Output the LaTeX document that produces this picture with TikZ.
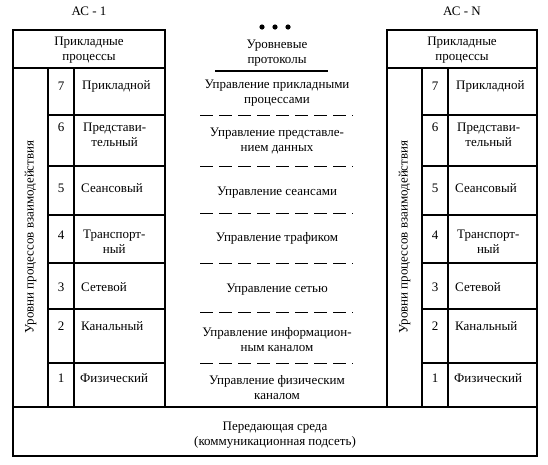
\documentclass[tikz,border=0pt]{standalone}
\usepackage{fontspec}
\setmainfont{Liberation Serif}
\begin{document}
\begin{tikzpicture}[x=1pt,y=-1pt,
  frame/.style={line width=1.2pt},
  sep/.style={line width=1pt, dash pattern=on 13pt off 6pt},
  txt/.style={inner sep=0pt, font=\fontsize{13}{15}\selectfont, align=center},
  lbl/.style={txt, anchor=west}]
\useasboundingbox (0,0) rectangle (548,464);
% titles
\node[txt] (t1) at (89,11) {АС - 1};
\node[txt] (tn) at (462,11) {АС - N};
% dots
\foreach \i/\x in {1/262,2/275,3/288}
  \fill (\x,27) circle (2.6pt);
% stacks
\foreach \s/\xa/\xb/\xc/\xd in {L/13/48/74/165, R/387/422/448/537}{
  \draw[frame] (\xa,30) rectangle (\xd,407);
  \draw[frame] (\xa,68) -- (\xd,68);
  \draw[frame] (\xb,68) -- (\xb,407);
  \draw[frame] (\xc,68) -- (\xc,407);
  \foreach \y in {115,166,215,263,309,363}
    \draw[frame] (\xb,\y) -- (\xd,\y);
  \node[txt] (hdr\s) at ({(\xa+\xd)/2},50) {Прикладные\\процессы};
  \node[txt, rotate=90] (vert\s) at ({(\xa+\xb)/2},237) {Уровни процессов взаимодействия};
  \node[txt] (n7\s) at ({(\xb+\xc)/2},86) {7};
  \node[txt] (n6\s) at ({(\xb+\xc)/2},127) {6};
  \node[txt] (n5\s) at ({(\xb+\xc)/2},188) {5};
  \node[txt] (n4\s) at ({(\xb+\xc)/2},235) {4};
  \node[txt] (n3\s) at ({(\xb+\xc)/2},287) {3};
  \node[txt] (n2\s) at ({(\xb+\xc)/2},326) {2};
  \node[txt] (n1\s) at ({(\xb+\xc)/2},378) {1};
  \node[lbl] (l7\s) at (\xc+8,86) {Прикладной};
  \node[lbl] (l6\s) at (\xc+9,134.5) {Представи-\\тельный};
  \node[lbl] (l5\s) at (\xc+7,188) {Сеансовый};
  \node[lbl] (l4\s) at (\xc+9,242) {Транспорт-\\ный};
  \node[lbl] (l3\s) at (\xc+7,287) {Сетевой};
  \node[lbl] (l2\s) at (\xc+7,326) {Канальный};
  \node[lbl] (l1\s) at (\xc+6,378) {Физический};
}
% bottom medium
\draw[frame] (13,407) rectangle (537,456);
\node[txt] (medium) at (275,435) {Передающая среда\\(коммуникационная подсеть)};
% middle protocols
\node[txt] (proto) at (277,53) {Уровневые\\протоколы};
\draw[line width=1.1pt] (215,71) -- (328,71);
\node[txt] (p7) at (277,93) {Управление прикладными\\процессами};
\node[txt] (p6) at (277,140.5) {Управление представле-\\нием данных};
\node[txt] (p5) at (277,193) {Управление сеансами};
\node[txt] (p4) at (277,238) {Управление трафиком};
\node[txt] (p3) at (277,290) {Управление сетью};
\node[txt] (p2) at (277,339.5) {Управление информацион-\\ным каналом};
\node[txt] (p1) at (277,387.5) {Управление физическим\\каналом};
\foreach \y in {115,166,213,263,312,363}
  \draw[sep] (200,\y) -- (353,\y);
\end{tikzpicture}
\end{document}
